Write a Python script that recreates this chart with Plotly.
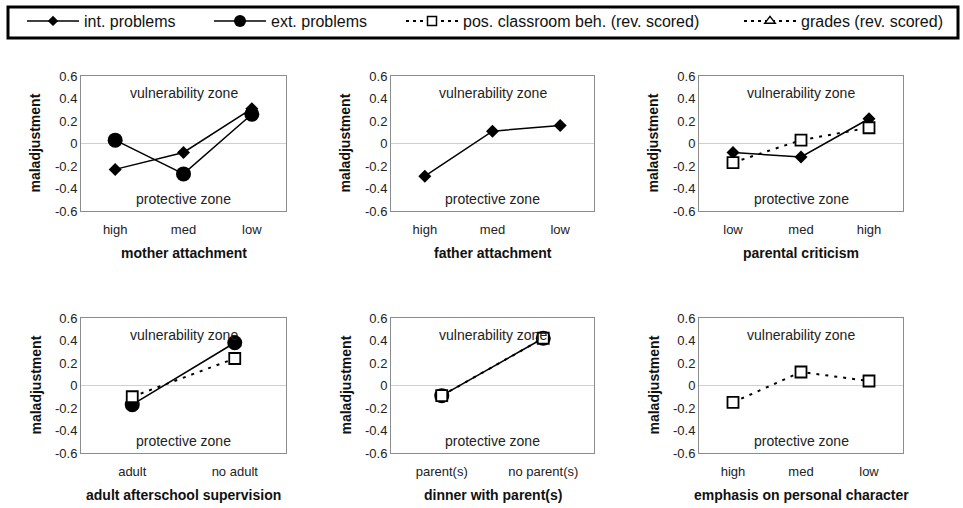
import plotly.graph_objects as go

# ---------------- data ----------------
y_tick_vals = [0.6, 0.4, 0.2, 0, -0.2, -0.4, -0.6]
y_tick_text = ["0.6", "0.4", "0.2", "0", "-0.2", "-0.4", "-0.6"]

mother_cats = ["high", "med", "low"]
mother_int = [-0.23, -0.08, 0.31]
mother_ext = [0.03, -0.27, 0.26]

father_cats = ["high", "med", "low"]
father_int = [-0.29, 0.11, 0.16]

criticism_cats = ["low", "med", "high"]
criticism_int = [-0.08, -0.12, 0.22]
criticism_pos = [-0.17, 0.03, 0.14]

supervision_cats = ["adult", "no adult"]
supervision_ext = [-0.17, 0.38]
supervision_pos = [-0.10, 0.24]

dinner_cats = ["parent(s)", "no parent(s)"]
dinner_ext = [-0.09, 0.42]
dinner_pos = [-0.09, 0.42]

character_cats = ["high", "med", "low"]
character_pos = [-0.15, 0.12, 0.04]

panel_titles = ["mother attachment", "father attachment", "parental criticism",
                "adult afterschool supervision", "dinner with parent(s)",
                "emphasis on personal character"]

series_names = ["int. problems", "ext. problems",
                "pos. classroom beh. (rev. scored)", "grades (rev. scored)"]

panels = [
    (mother_cats, {"int": mother_int, "ext": mother_ext}),
    (father_cats, {"int": father_int}),
    (criticism_cats, {"int": criticism_int, "pos": criticism_pos}),
    (supervision_cats, {"ext": supervision_ext, "pos": supervision_pos}),
    (dinner_cats, {"ext": dinner_ext, "pos": dinner_pos}),
    (character_cats, {"pos": character_pos}),
]

# ---------------- layout geometry (pixels) ----------------
W, H = 963, 508
col_px = [(81, 286), (391, 594), (699, 903)]
row_px = [(76, 211), (318, 453)]
legend_x_px = [22, 209, 401, 739]

FONT = "Liberation Sans, Arial, Helvetica, sans-serif"

line_solid = dict(color="black", width=1.5)
line_dot = dict(color="black", width=2, dash="3px,6px")
styles = {
    "int": dict(line=line_solid, marker=dict(symbol="diamond", size=10, color="black")),
    "ext": dict(line=line_solid, marker=dict(symbol="circle", size=15, color="black")),
    "pos": dict(line=line_dot, marker=dict(symbol="square", size=11, color="white",
                                           line=dict(color="black", width=1.8))),
    "grades": dict(line=line_dot, marker=dict(symbol="triangle-up", size=10, color="white",
                                              line=dict(color="black", width=1.8))),
}
legend_dot = dict(color="black", width=2, dash="3px,4px")
legend_styles = {
    "int": dict(line=line_solid, marker=dict(symbol="diamond", size=8, color="black")),
    "ext": dict(line=line_solid, marker=dict(symbol="circle", size=12, color="black")),
    "pos": dict(line=legend_dot,
                marker=dict(symbol="square", size=9, color="white",
                            line=dict(color="black", width=1.5))),
    "grades": dict(line=legend_dot,
                   marker=dict(symbol="triangle-up", size=9, color="white",
                               line=dict(color="black", width=1.5))),
}
keys = ["int", "ext", "pos", "grades"]

fig = go.Figure()
layout = {}
annotations = []

for i, (cats, series) in enumerate(panels):
    r, c = divmod(i, 3)
    x0, x1 = col_px[c]
    yt, yb = row_px[r]
    ax = "" if i == 0 else str(i + 1)
    layout["xaxis" + ax] = dict(
        domain=[x0 / W, x1 / W], anchor="y" + ax, type="category",
        range=[-0.5, len(cats) - 0.5], showline=True, mirror=True,
        linecolor="#8c8c8c", linewidth=1, showgrid=False, zeroline=False,
        ticks="", ticklabelstandoff=6,
        tickfont=dict(family=FONT, size=13, color="#222"), fixedrange=True)
    layout["yaxis" + ax] = dict(
        domain=[1 - yb / H, 1 - yt / H], anchor="x" + ax,
        range=[-0.6, 0.6], tickvals=y_tick_vals, ticktext=y_tick_text,
        showline=True, mirror=True, linecolor="#8c8c8c", linewidth=1,
        showgrid=False, zeroline=True, zerolinecolor="#d0d0d0", zerolinewidth=1,
        ticks="", tickfont=dict(family=FONT, size=13, color="#222"),
        fixedrange=True)
    for k in keys:
        if k in series:
            fig.add_trace(go.Scatter(
                x=cats, y=series[k], mode="lines+markers",
                name=series_names[keys.index(k)], showlegend=False,
                xaxis="x" + ax, yaxis="y" + ax, **styles[k]))
    # zone labels
    mid = (len(cats) - 1) / 2
    annotations.append(dict(text="vulnerability zone", x=mid, y=0.45,
                            xref="x" + ax, yref="y" + ax, showarrow=False,
                            font=dict(family=FONT, size=14, color="#222")))
    annotations.append(dict(text="protective zone", x=mid, y=-0.49,
                            xref="x" + ax, yref="y" + ax, showarrow=False,
                            font=dict(family=FONT, size=14, color="#222")))
    # axis titles
    annotations.append(dict(text="<b>maladjustment</b>", textangle=-90,
                            x=(x0 - 46) / W, y=1 - (yt + yb) / 2 / H,
                            xanchor="center", yanchor="middle",
                            xref="paper", yref="paper", showarrow=False,
                            font=dict(family=FONT, size=14, color="#111")))
    annotations.append(dict(text="<b>" + panel_titles[i] + "</b>",
                            x=(x0 + x1) / 2 / W, y=1 - (yb + 42) / H,
                            xanchor="center", yanchor="middle",
                            xref="paper", yref="paper", showarrow=False,
                            font=dict(family=FONT, size=14, color="#111")))

# legend-only entries, one legend per series so each can be placed like the original
legend_layout = {}
for j, k in enumerate(keys):
    lid = "legend" if j == 0 else "legend%d" % (j + 1)
    fig.add_trace(go.Scatter(x=[None], y=[None], mode="lines+markers",
                             name=series_names[j], legend=lid, showlegend=True,
                             xaxis="x", yaxis="y", **legend_styles[k]))
    legend_layout[lid] = dict(
        xref="container", yref="container",
        x=legend_x_px[j] / W, xanchor="left", y=1 - 4 / H, yanchor="top",
        font=dict(family=FONT, size=16, color="#111"), itemwidth=52,
        bgcolor="rgba(0,0,0,0)", borderwidth=0,
        itemclick=False, itemdoubleclick=False)

fig.update_layout(
    **layout, **legend_layout,
    width=W, height=H, margin=dict(l=0, r=0, t=0, b=0, autoexpand=False),
    paper_bgcolor="white", plot_bgcolor="white",
    showlegend=True,
    annotations=annotations,
    shapes=[dict(type="rect", xref="paper", yref="paper",
                 x0=8 / W, x1=958 / W, y0=1 - 38 / H, y1=1 - 7 / H,
                 line=dict(color="black", width=3), fillcolor="rgba(0,0,0,0)")],
)

fig.write_html("out.html", config={"displayModeBar": False},
               post_script="document.body.style.margin='0px';")
